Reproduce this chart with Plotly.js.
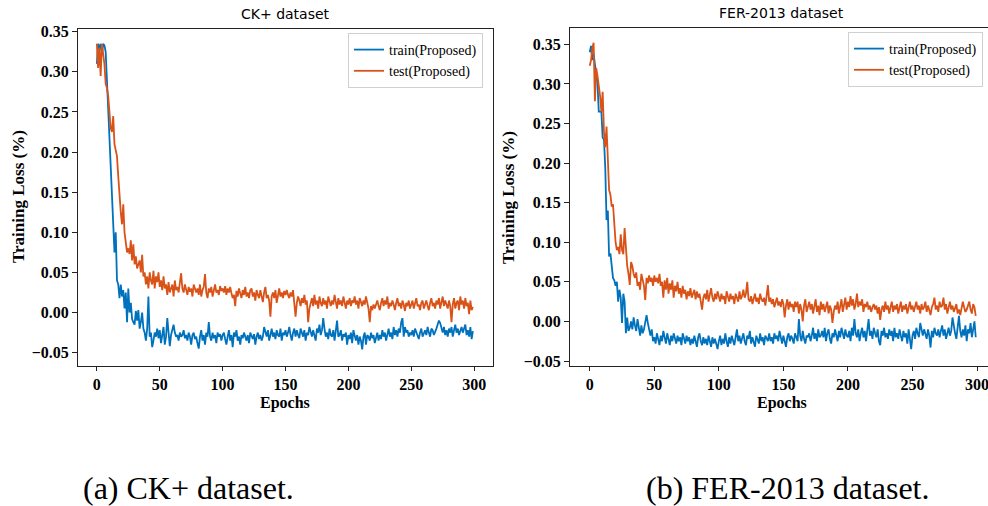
<!DOCTYPE html>
<html>
<head>
<meta charset="utf-8">
<script src="https://cdn.plot.ly/plotly-3.0.1.min.js"></script>
<style>
html,body{margin:0;padding:0;background:#fff;}
#chart{width:988px;height:506px;}
</style>
</head>
<body>
<div id="chart"></div>
<script>
// ---------- DATA ----------
const ckTrain = [
.310,.335,.328,.335,.322,.335,.333,.325,.290,.255,
.225,.190,.140,.100,.075,.100,.040,.035,.018,.035,
.020,.028,.005,.025,-.012,.030,.000,.012,-.008,-.012,
-.015,.002,-.010,.003,-.020,-.012,.000,-.020,-.025,-.035,
-.020,.020,-.030,-.025,-.043,-.035,-.025,-.030,-.020,-.032,
-.022,-.038,-.028,-.018,-.040,-.030,-.007,-.025,-.042,-.028,
-.020,-.015,-.025,-.030,-.028,-.035,-.025,-.030,-.028,-.022,
-.032,-.028,-.035,-.025,-.030,-.040,-.028,-.025,-.033,-.030,
-.038,-.045,-.030,-.022,-.035,-.028,-.040,-.025,-.030,-.012,
-.030,-.035,-.025,-.032,-.028,-.038,-.025,-.030,-.027,-.035,
-.028,-.025,-.033,-.040,-.030,-.022,-.035,-.028,-.043,-.025,
-.030,-.022,-.035,-.030,-.040,-.028,-.032,-.025,-.030,-.035,
-.028,-.038,-.025,-.030,-.033,-.027,-.040,-.030,-.025,-.033,
-.028,-.035,-.030,-.018,-.025,-.030,-.022,-.035,-.028,-.020,
-.030,-.025,-.033,-.022,-.028,-.030,-.020,-.035,-.025,-.028,
-.022,-.030,-.025,-.018,-.028,-.035,-.025,-.020,-.030,-.022,
-.028,-.032,-.020,-.025,-.030,-.022,-.035,-.025,-.028,-.018,
-.025,-.030,-.022,-.028,-.035,-.020,-.025,-.015,-.028,-.022,
-.007,-.020,-.030,-.025,-.033,-.020,-.028,-.030,-.022,-.035,
-.025,-.010,-.030,-.028,-.022,-.035,-.027,-.030,-.025,-.040,
-.028,-.033,-.025,-.038,-.022,-.030,-.035,-.028,-.040,-.030,
-.035,-.046,-.030,-.025,-.040,-.028,-.030,-.035,-.025,-.032,
-.028,-.038,-.030,-.025,-.035,-.028,-.033,-.022,-.030,-.025,
-.035,-.028,-.020,-.030,-.025,-.033,-.018,-.028,-.022,-.030,
-.020,-.025,-.012,-.007,-.030,-.018,-.025,-.022,-.030,-.025,
-.028,-.022,-.030,-.020,-.025,-.028,-.033,-.025,-.020,-.030,
-.025,-.022,-.028,-.018,-.025,-.030,-.020,-.022,-.028,-.025,
-.020,-.015,-.010,-.013,-.020,-.025,-.018,-.028,-.022,-.030,
-.020,-.025,-.018,-.030,-.022,-.015,-.025,-.020,-.028,-.022,
-.018,-.025,-.020,-.015,-.028,-.022,-.030,-.018,-.033,-.023
];
const ckTest = [
.335,.305,.330,.295,.335,.320,.310,.285,.280,.270,
.250,.230,.225,.245,.210,.200,.195,.170,.140,.125,
.110,.135,.100,.085,.075,.080,.073,.090,.065,.085,
.060,.070,.055,.060,.065,.050,.072,.045,.050,.035,
.045,.030,.050,.040,.035,.052,.030,.045,.038,.050,
.032,.040,.028,.045,.030,.035,.022,.038,.025,.030,
.035,.020,.040,.028,.032,.025,.038,.049,.030,.025,
.035,.028,.022,.032,.026,.030,.020,.035,.028,.025,
.030,.022,.035,.020,.028,.032,.048,.025,.018,.030,
.025,.032,.020,.030,.035,.025,.028,.022,.033,.027,
.030,.025,.033,.022,.030,.025,.032,.024,.018,.022,
.008,.027,.020,.030,.022,.018,.028,.022,.032,.020,
.025,.018,.028,.030,.020,.025,.015,.028,.022,.018,
.028,.020,.013,.025,.032,.018,.022,.015,-.005,.020,
.025,.018,.028,.012,.022,.030,.020,.025,.018,.027,
.022,.028,.022,.018,.025,.020,.028,.015,-.005,.012,
.020,.015,.008,.018,.012,.022,.010,.015,-.012,.005,
.012,.018,.008,.022,.010,.015,.005,.020,.012,.008,
.018,.010,.015,.005,.020,.012,.008,.015,.010,.022,
.012,.005,.018,.010,.015,.008,.020,.012,.005,.015,
.010,.018,.008,.015,.012,.020,.010,.015,.005,.018,
.012,.008,.015,.010,.020,.012,.005,-.012,.008,.003,
.010,.005,.012,.015,.008,.003,.012,.018,.008,.015,
.010,.020,.005,.012,.008,.015,.010,.003,.012,.018,
.008,.012,.005,.015,.010,.002,.012,.008,.015,.005,
.010,.015,.005,.012,.018,.008,.010,.003,.012,.015,
.005,.010,.015,.008,.003,.012,.018,.008,.012,.005,
.015,.010,.018,.005,.012,.020,.008,.015,.010,.005,
.015,.008,-.012,.010,.018,.005,.012,.015,.003,.020,
.010,.015,.005,.018,.008,.012,-.002,.015,.003,.007
];
const ferTrain = [
.340,.348,.330,.338,.325,.310,.300,.265,.265,.265,
.232,.230,.195,.128,.140,.082,.086,.070,.055,.052,
.045,.050,.025,.040,.030,-.002,.035,.025,-.015,.005,
-.012,-.008,.000,-.010,.005,-.005,-.012,.003,-.010,-.018,
-.005,-.015,-.010,.000,.008,-.002,-.012,-.018,-.010,-.025,
-.020,-.028,-.015,-.022,-.030,-.018,-.025,-.012,-.020,-.028,
-.015,-.022,-.030,-.018,-.025,-.015,-.022,-.028,-.018,-.025,
-.020,-.030,-.015,-.022,-.028,-.018,-.025,-.020,-.030,-.022,
-.028,-.018,-.025,-.032,-.020,-.015,-.025,-.030,-.020,-.028,
-.022,-.030,-.018,-.025,-.032,-.020,-.028,-.022,-.030,-.035,
-.025,-.018,-.030,-.022,-.028,-.015,-.025,-.032,-.020,-.028,
-.018,-.025,-.030,-.020,-.010,-.025,-.018,-.028,-.022,-.015,
-.025,-.030,-.018,-.022,-.012,-.028,-.020,-.025,-.032,-.018,
-.022,-.028,-.015,-.025,-.020,-.030,-.018,-.022,-.025,-.015,
-.025,-.020,-.028,-.015,-.022,-.018,-.025,-.012,-.020,-.028,
-.018,-.025,-.032,-.020,-.015,-.025,-.018,-.022,-.028,-.015,
-.020,-.025,.003,-.018,-.025,-.012,-.022,-.028,-.018,-.020,
-.015,-.025,-.018,-.008,-.022,-.015,-.025,-.010,-.020,-.018,
-.012,-.020,-.008,-.025,-.015,-.010,-.022,-.028,-.015,-.020,
-.010,-.018,-.025,-.012,-.020,-.008,-.015,-.022,-.010,-.018,
-.020,-.012,-.025,-.008,-.018,.003,-.015,-.020,-.010,-.025,
-.015,-.008,-.020,-.012,-.025,-.010,.003,-.018,-.012,-.022,
-.008,-.015,-.020,-.010,-.025,-.030,-.012,-.018,-.008,-.020,
-.015,-.022,-.010,-.018,-.012,-.025,-.008,-.020,-.015,-.022,
-.010,-.018,-.025,-.012,-.020,-.015,-.028,-.010,-.022,-.035,
-.018,-.012,-.022,-.008,-.015,-.020,-.002,-.012,-.018,-.010,
-.015,-.022,-.010,-.018,-.033,-.012,-.020,-.008,-.015,-.018,
-.010,-.020,-.012,-.005,-.018,-.010,-.022,-.015,-.008,-.018,
-.012,.005,-.008,-.015,-.022,-.005,.007,-.012,-.020,-.010,
-.018,-.005,-.025,-.010,-.015,-.002,-.020,-.010,.000,-.020
];
const ferTest = [
.323,.330,.345,.352,.278,.320,.310,.300,.285,.265,
.290,.240,.220,.246,.200,.166,.160,.145,.148,.120,
.100,.090,.094,.085,.110,.090,.085,.118,.086,.070,
.060,.046,.075,.070,.060,.055,.062,.045,.050,.040,
.060,.052,.045,.027,.055,.048,.058,.050,.055,.045,
.058,.050,.055,.048,.060,.045,.050,.030,.052,.040,
.055,.035,.048,.040,.052,.030,.045,.038,.050,.035,
.042,.030,.045,.035,.040,.028,.038,.032,.042,.030,
.035,.040,.028,.038,.030,.035,.025,.015,.030,.035,
.028,.040,.025,.032,.042,.030,.025,.035,.028,.038,
.030,.025,.035,.028,.032,.022,.038,.030,.025,.035,
.028,.032,.022,.035,.030,.025,.038,.028,.032,.040,
.030,.035,.050,.028,.025,.032,.022,.030,.035,.025,
.030,.022,.035,.028,.025,.030,.020,.032,.046,.025,
.030,.022,.028,.018,.025,.030,.020,.025,.018,.028,
.022,.005,.020,.028,.015,.025,.018,.022,.012,.025,
.018,.025,.010,.022,.015,.000,.020,.028,.012,.018,
.025,.015,.022,.010,.018,.028,.012,.020,.008,.025,
.015,.022,.012,.018,.025,.010,.020,.015,-.002,.012,
.020,.015,.025,.010,.018,.028,.012,.022,.030,.015,
.025,.018,.032,.020,.028,.015,.022,.035,.018,.025,
.020,.028,.012,.022,.018,.025,.015,.020,.012,.018,
.022,.015,.020,.010,.018,.002,.015,.020,.012,.025,
.015,.020,.010,.018,.025,.012,.020,.015,.022,.010,
.018,.025,.012,.020,.015,.022,.010,.018,.025,.015,
.020,.012,.018,.025,.015,.020,.010,.022,.015,.018,
.025,.012,.020,.015,.008,.018,.022,.030,.015,.020,
.012,.025,.018,.020,.030,.015,.022,.010,.018,.025,
.015,.020,.012,.018,.022,.010,.015,.008,.020,.025,
.018,.012,.015,.020,.025,.015,.010,.022,.018,.007
];
const epochs = ckTrain.map((_, i) => i);
const seriesNames = ['train(Proposed)', 'test(Proposed)'];
const panelTitles = ['CK+ dataset', 'FER-2013 dataset'];
const captions = ['(a) CK+ dataset.', '(b) FER-2013 dataset.'];
const xTitle = 'Epochs';
const yTitle = 'Training Loss (%)';
const yTicks = [-0.05, 0, 0.05, 0.10, 0.15, 0.20, 0.25, 0.30, 0.35];
const xTicks = [0, 50, 100, 150, 200, 250, 300];

// ---------- STYLE ----------
const W = 988, H = 506;
const BLUE = '#0072BD', ORANGE = '#D95319';
const serif = 'Liberation Serif, Times New Roman, serif';
const sans = 'DejaVu Sans, sans-serif';
const px = v => v / W;
const py = v => 1 - v / H;

function line(x, y, color, name, xa, ya, leg) {
  return {x, y, type: 'scatter', mode: 'lines', name, xaxis: xa, yaxis: ya,
          legend: leg, line: {color, width: 1.8}, hoverinfo: 'skip'};
}
const traces = [
  line(epochs, ckTrain, BLUE, seriesNames[0], 'x', 'y', 'legend'),
  line(epochs, ckTest, ORANGE, seriesNames[1], 'x', 'y', 'legend'),
  line(epochs, ferTrain, BLUE, seriesNames[0], 'x2', 'y2', 'legend2'),
  line(epochs, ferTest, ORANGE, seriesNames[1], 'x2', 'y2', 'legend2')
];

const tickFont = {family: serif, size: 16, color: '#000', weight: 'bold'};
function xax(domain, range, anchor) {
  return {domain, range, anchor, tickvals: xTicks, ticktext: xTicks.map(String),
    ticks: 'outside', ticklen: 4, tickwidth: 1, tickcolor: '#222',
    ticklabeloverflow: 'allow',
    showline: true, linecolor: '#222', linewidth: 1, mirror: true,
    showgrid: false, zeroline: false, tickfont: tickFont, fixedrange: true};
}
function yax(domain, range, anchor) {
  return {domain, range, anchor, tickvals: yTicks,
    ticktext: yTicks.map(v => (v < 0 ? '\u2212' : '') + Math.abs(v).toFixed(2)),
    ticks: 'outside', ticklen: 5, tickwidth: 1, tickcolor: '#222',
    showline: true, linecolor: '#222', linewidth: 1, mirror: true,
    showgrid: false, zeroline: false, tickfont: tickFont, fixedrange: true};
}
const legendStyle = {
  font: {family: serif, size: 14, color: '#000'},
  bgcolor: 'rgba(255,255,255,0.9)', bordercolor: '#d0d0d0', borderwidth: 1,
  xanchor: 'left', yanchor: 'top', tracegroupgap: 0
};
function ann(text, x, y, font, extra) {
  return Object.assign({text, x: px(x), y: py(y), xref: 'paper', yref: 'paper',
    showarrow: false, xanchor: 'center', yanchor: 'middle', font}, extra || {});
}
const titleFont = {family: sans, size: 14, color: '#000'};
const labFont = {family: serif, size: 17, color: '#000', weight: 'bold'};
const xlabFont = {family: serif, size: 16, color: '#000', weight: 'bold'};
const capFont = {family: serif, size: 32, color: '#000'};

const layout = {
  width: W, height: H, margin: {l: 0, r: 0, t: 0, b: 0},
  paper_bgcolor: '#fff', plot_bgcolor: '#fff', showlegend: true,
  xaxis: xax([px(78), px(493)], [-15, 315], 'y'),
  yaxis: yax([py(366), py(29)], [-0.0666, 0.3534], 'x'),
  xaxis2: xax([px(570), 1], [-15.3, 308.5], 'y2'),
  yaxis2: yax([py(366), py(28)], [-0.0563, 0.3706], 'x2'),
  legend: Object.assign({x: px(348), y: py(33)}, legendStyle),
  legend2: Object.assign({x: px(848), y: py(32)}, legendStyle),
  annotations: [
    ann(panelTitles[0], 285, 14, titleFont),
    ann(panelTitles[1], 781, 13, titleFont),
    ann(xTitle, 285, 403, xlabFont),
    ann(xTitle, 782, 403, xlabFont),
    ann(yTitle, 18, 197, labFont, {textangle: -90}),
    ann(yTitle, 508, 197, labFont, {textangle: -90}),
    ann(captions[0], 188, 488, capFont),
    ann(captions[1], 788, 488, capFont)
  ]
};
Plotly.newPlot('chart', traces, layout, {displayModeBar: false, staticPlot: true});
</script>
</body>
</html>
